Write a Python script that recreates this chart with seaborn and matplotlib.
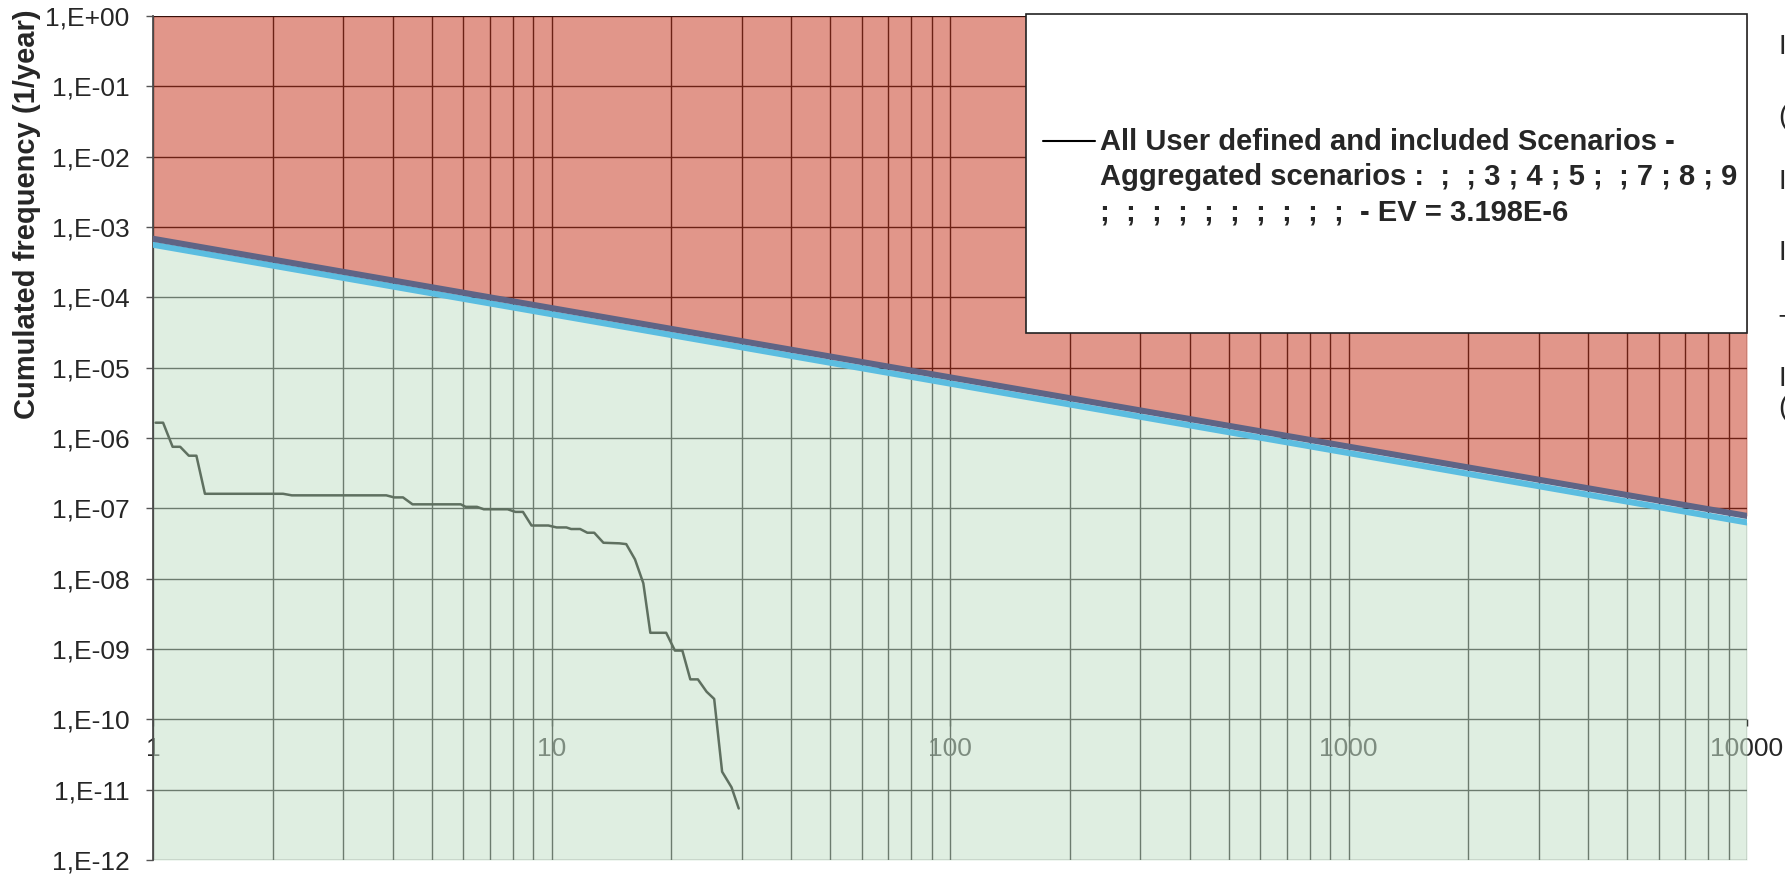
import numpy as np
import pandas as pd
import matplotlib.pyplot as plt
import seaborn as sns
from matplotlib.patches import Rectangle
from matplotlib.lines import Line2D
from matplotlib.ticker import LogLocator, NullLocator

# F-N curve: number of fatalities vs cumulated frequency (1/year)
n_fatalities = [1.015, 1.06, 1.12, 1.17, 1.23, 1.285, 1.35, 2.12, 2.23, 3.85,
                4.03, 4.24, 4.48, 5.92, 6.09, 6.50, 6.76, 7.76, 8.12, 8.48,
                8.91, 9.82, 10.3, 10.9, 11.2, 11.8, 12.3, 12.8, 13.5, 14.8,
                15.4, 16.2, 17.0, 17.7, 19.4, 20.4, 21.3, 22.3, 23.3, 24.5,
                25.6, 26.8, 28.3, 29.5]
frequency = [1.65e-6, 1.65e-6, 7.5e-7, 7.5e-7, 5.6e-7, 5.6e-7, 1.61e-7, 1.61e-7, 1.53e-7, 1.53e-7,
             1.43e-7, 1.43e-7, 1.14e-7, 1.14e-7, 1.05e-7, 1.05e-7, 9.7e-8, 9.7e-8, 8.9e-8, 8.9e-8,
             5.7e-8, 5.7e-8, 5.35e-8, 5.35e-8, 5.08e-8, 5.08e-8, 4.5e-8, 4.5e-8, 3.24e-8, 3.18e-8,
             3.1e-8, 1.88e-8, 8.6e-9, 1.7e-9, 1.7e-9, 9.5e-10, 9.5e-10, 3.7e-10, 3.7e-10, 2.47e-10,
             1.95e-10, 1.8e-11, 1.08e-11, 5.4e-12]

# acceptability criterion lines
limit_x = [1, 10000]
upper_limit = [6.8e-4, 7.8e-8]
lower_limit = [5.6e-4, 6.3e-8]

x_ticks = [1, 10, 100, 1000, 10000]
x_tick_labels = ["1", "10", "100", "1000", "10000"]
y_ticks = [1e0, 1e-1, 1e-2, 1e-3, 1e-4, 1e-5, 1e-6, 1e-7, 1e-8, 1e-9, 1e-10, 1e-11, 1e-12]
y_tick_labels = ["1,E+00", "1,E-01", "1,E-02", "1,E-03", "1,E-04", "1,E-05", "1,E-06",
                 "1,E-07", "1,E-08", "1,E-09", "1,E-10", "1,E-11", "1,E-12"]

legend_label = ("All User defined and included Scenarios -\n"
                "Aggregated scenarios :  ;  ; 3 ; 4 ; 5 ;  ; 7 ; 8 ; 9\n"
                ";  ;  ;  ;  ;  ;  ;  ;  ;  ;  - EV = 3.198E-6")

df = pd.DataFrame({'N': n_fatalities, 'F': frequency})

sns.set_style("white")
plt.rcParams['font.family'] = ['Liberation Sans', 'DejaVu Sans']

W, H = 1785, 875
fig = plt.figure(figsize=(W / 100, H / 100), dpi=100)
ax = fig.add_axes([153 / W, 1 - 860 / H, (1747 - 153) / W, (860 - 16) / H])
ax.set_xscale('log')
ax.set_yscale('log')

# red = unacceptable zone, green = acceptable zone
ax.fill_between(limit_x, upper_limit, 1, color=(200 / 255, 62 / 255, 40 / 255), alpha=0.54, lw=0, zorder=1)
ax.fill_between(limit_x, 1e-12, lower_limit, color=(198 / 255, 225 / 255, 202 / 255), alpha=0.55, lw=0, zorder=1)

sns.lineplot(x=limit_x, y=lower_limit, color='#5bbde0', lw=4.4, ax=ax, zorder=3)
sns.lineplot(x=limit_x, y=upper_limit, color='#5f6485', lw=4.4, ax=ax, zorder=3)
sns.lineplot(data=df, x='N', y='F', color='#5f7060', lw=1.8, estimator=None, sort=False, ax=ax, zorder=4)

ax.set_xlim(1, 1e4)
ax.set_ylim(1e-12, 1)

# grid and axis sit below the semi-transparent fills (like the excel chart)
ax.set_axisbelow(True)
ax.xaxis.set_minor_locator(LogLocator(base=10, subs=np.arange(2, 10)))
ax.yaxis.set_minor_locator(NullLocator())
ax.grid(True, which='major', color='black', lw=1.0)
ax.grid(True, which='minor', axis='x', color='black', lw=1.0)

ax.set_xticks(x_ticks)
ax.set_xticklabels(x_tick_labels)
ax.set_yticks(y_ticks)
ax.set_yticklabels(y_tick_labels)
ax.tick_params(axis='x', which='major', direction='out', length=5, width=1, color='black',
               pad=8, labelsize=19, bottom=True)
ax.tick_params(axis='x', which='minor', length=0)
ax.tick_params(axis='y', which='major', direction='out', length=5, width=1, color='#555555',
               pad=12, labelsize=19, left=True)
ax.set_xlabel('')
ax.set_ylabel('')

# x axis crosses at 1E-10
ax.spines['bottom'].set_position(('data', 1e-10))
ax.spines['bottom'].set_visible(False)
ax.spines['top'].set_visible(False)
ax.spines['right'].set_visible(False)
ax.spines['left'].set_color('#4d4d4d')
ax.spines['left'].set_linewidth(1.3)

fig.text(27 / W, 1 - 214 / H, "Cumulated frequency (1/year)", rotation=90,
         ha='center', va='center', fontsize=21, fontweight='bold')

# legend box
fig.add_artist(Rectangle((1026 / W, 1 - 333 / H), (1747 - 1026) / W, (333 - 14) / H,
                         transform=fig.transFigure, facecolor='white', edgecolor='#222222',
                         lw=1.2, zorder=10))
fig.add_artist(Line2D([1043 / W, 1095 / W], [1 - 141 / H, 1 - 141 / H],
                      transform=fig.transFigure, color='black', lw=1.5, zorder=11))
fig.text(1100 / W, 1 - 177 / H, legend_label, ha='left', va='center', fontsize=21,
         fontweight='bold', linespacing=1.33, zorder=11)

# second legend, cut off at the right border
for ch, yy in [("I", 47), ("(", 117), ("I", 182), ("I", 253), ("T", 327), ("I", 379), ("(", 408)]:
    fig.text(1778 / W, 1 - yy / H, ch, ha='left', va='center', fontsize=20)

plt.savefig('out.png', dpi=100)
